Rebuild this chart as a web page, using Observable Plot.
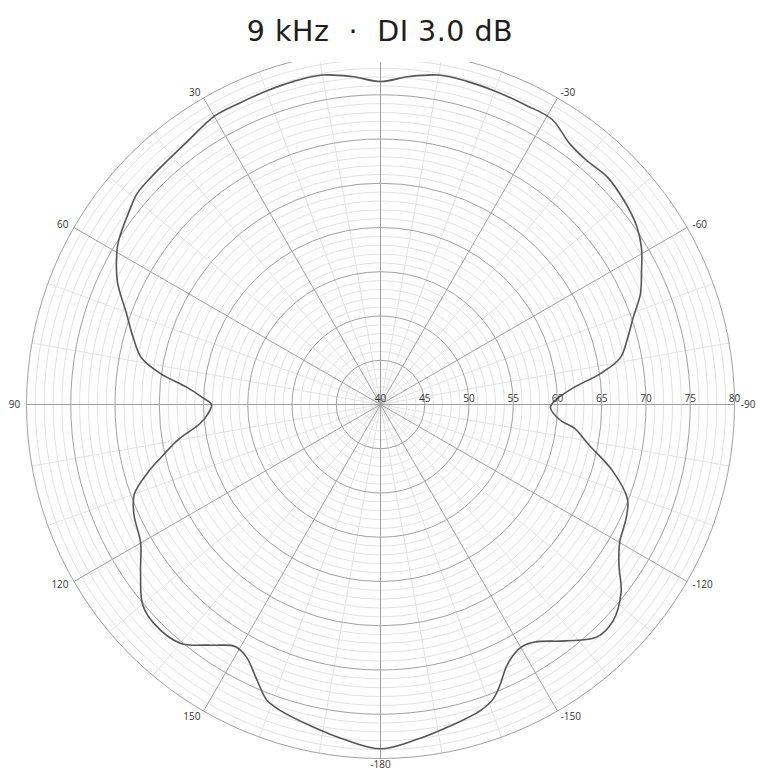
<!DOCTYPE html>
<html>
<head>
<meta charset="utf-8">
<script src="https://cdn.jsdelivr.net/npm/d3@7"></script>
<script src="https://cdn.jsdelivr.net/npm/@observablehq/plot@0.6"></script>
<style>
html, body { margin: 0; padding: 0; background: #fff; }
#wrap { position: relative; width: 760px; height: 773px; overflow: hidden; }
#title {
  position: absolute; left: 0; top: 0; width: 760px; height: 62px;
  box-sizing: border-box; padding-top: 17px;
  background: #fff; text-align: center;
  font-family: "DejaVu Sans", sans-serif; font-size: 28.5px; line-height: 30px;
  letter-spacing: 0.5px;
  color: #1e1e1e; white-space: pre;
}
</style>
</head>
<body>
<div id="wrap"><div id="chart"></div><div id="title">9 kHz  ·  DI 3.0 dB</div></div>
<script>
// Measured polar response: angle in degrees (positive = counter-clockwise from front/top), level in dB
const angles = [-180, -174, -168, -162, -159, -157, -154, -150, -147, -142, -137, -133, -128, -124, -120, -115, -111, -106, -101, -97, -95, -91, -89, -85, -82, -79, -75, -71, -67, -63, -59, -55, -50, -45, -40, -36, -31, -26, -20, -15, -10, -5,
  0, 5, 10, 15, 20, 25, 30, 36, 41, 45, 49, 52, 58, 60, 65, 70, 75, 79, 82, 85, 88, 90, 93, 96, 100, 104, 106, 110, 114, 120, 125, 130, 134, 140, 145, 149, 152, 156, 159, 162, 168, 174];
const levels = [78.9, 78.1, 77.2, 76.4, 75.6, 74.5, 72.7, 71.7, 72.0, 73.9, 75.9, 75.9, 74.5, 72.5, 71.2, 70.6, 69.9, 67.3, 64.0, 62.1, 60.4, 59.2, 59.6, 61.9, 65.1, 67.6, 68.9, 70.2, 71.9, 73.1, 74.4, 75.3, 75.9, 76.3, 76.1, 76.4, 77.6, 77.6, 77.7, 77.8, 77.8, 77.2,
  76.5, 77.2, 77.8, 77.8, 77.7, 77.6, 77.6, 76.9, 76.6, 76.5, 76.4, 75.9, 74.9, 74.4, 72.8, 70.6, 68.9, 67.5, 65.1, 61.9, 60.0, 59.1, 59.5, 60.5, 63.3, 65.8, 67.2, 69.6, 70.5, 71.3, 73.1, 75.1, 75.6, 75.2, 73.2, 71.9, 72.3, 74.2, 75.8, 76.4, 77.2, 78.1];

// Radial scale (dB) and grid
const dbMin = 40, dbMax = 80;
const dbTicks = [40, 45, 50, 55, 60, 65, 70, 75, 80];
const ringMajor = [45, 50, 55, 60, 65, 70, 75, 80];
const ringMinor = d3.range(41, 80).filter(d => d % 5 !== 0);
const spokeMajor = [0, 30, 60, 90, 120, 150, 180, -150, -120, -90, -60, -30];
const spokeMinor = d3.range(-170, 180, 10).filter(a => a % 30 !== 0);
const labelLeft = [30, 60, 90, 120, 150];
const labelRight = [-30, -60, -90, -120, -150];
const labelBottom = [-180];

const rad = a => a * Math.PI / 180;
const px = (a, r) => -r * Math.sin(rad(a));
const py = (a, r) => r * Math.cos(rad(a));

const response = angles.map((a, i) => ({angle: a, db: levels[i]}));
const labelR = 40.7;
const gridMinor = "#e2e2e2", gridMajor = "#a0a0a0", textCol = "#333";

const chart = Plot.plot({
  width: 760,
  height: 773,
  marginLeft: 26, marginRight: 26, marginTop: 50, marginBottom: 15,
  x: {domain: [-40, 40], axis: null},
  y: {domain: [-40, 40], axis: null},
  r: {type: "linear", domain: [0, 40], range: [0, 354]},
  style: {fontFamily: "'Open Sans', sans-serif", fontSize: "10px", background: "#fff", overflow: "visible"},
  marks: [
    Plot.dot(ringMinor, {x: () => 0, y: () => 0, r: d => d - dbMin, stroke: gridMinor, strokeWidth: 1}),
    Plot.link(spokeMinor, {x1: () => 0, y1: () => 0, x2: a => px(a, 40), y2: a => py(a, 40), stroke: gridMinor, strokeWidth: 1}),
    Plot.dot(ringMajor, {x: () => 0, y: () => 0, r: d => d - dbMin, stroke: gridMajor, strokeWidth: 1}),
    Plot.link(spokeMajor, {x1: () => 0, y1: () => 0, x2: a => px(a, 40), y2: a => py(a, 40), stroke: gridMajor, strokeWidth: 1}),
    Plot.line(response, {x: d => px(d.angle, d.db - dbMin), y: d => py(d.angle, d.db - dbMin), curve: "catmull-rom-closed", stroke: "#555", strokeWidth: 1.6}),
    Plot.text(dbTicks, {x: d => d - dbMin, y: () => 0, text: d => String(d), dy: -6, fill: textCol, textAnchor: "middle"}),
    Plot.text(labelLeft, {x: a => px(a, labelR), y: a => py(a, labelR), text: a => String(a), textAnchor: "end", fill: textCol}),
    Plot.text(labelRight, {x: a => px(a, labelR), y: a => py(a, labelR), text: a => String(a), textAnchor: "start", fill: textCol}),
    Plot.text(labelBottom, {x: a => px(a, labelR), y: a => py(a, labelR), text: a => String(a), textAnchor: "middle", fill: textCol})
  ]
});
document.getElementById("chart").appendChild(chart);
</script>
</body>
</html>
